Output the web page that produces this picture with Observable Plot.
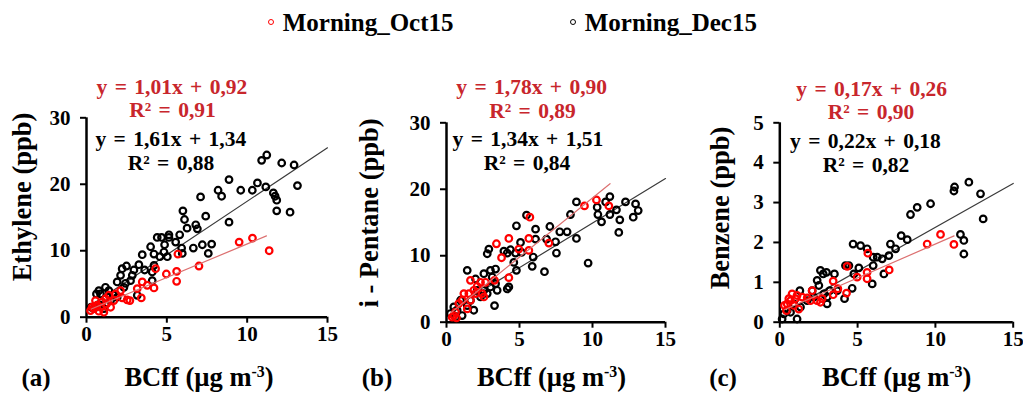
<!DOCTYPE html>
<html>
<head>
<meta charset="utf-8">
<script src="https://cdn.jsdelivr.net/npm/d3@7"></script>
<script src="https://cdn.jsdelivr.net/npm/@observablehq/plot@0.6"></script>
<style>
  html, body { margin: 0; padding: 0; background: #fff; }
  #chart { position: relative; width: 1023px; height: 399px; overflow: hidden;
           font-family: "Liberation Serif", "Times New Roman", serif; font-weight: bold; color: #000; }
  #chart svg { position: absolute; top: 0; }
  .t { position: absolute; white-space: nowrap; line-height: 0.8; }
  .c { transform: translate(-50%, -50%); }
  .rot { transform: translate(-50%, -50%) rotate(-90deg); }
  .eq { word-spacing: 2px; }
  .red { color: #c8262c; }
  sup { font-size: 0.6em; vertical-align: 0; position: relative; top: -0.55em; }
</style>
</head>
<body>
<div id="chart"></div>
<script>
// ---------- data (x = BCff µg m-3, y = ppb) ----------
const seriesNames = ["Morning_Oct15", "Morning_Dec15"];
const xTicks = [0, 5, 10, 15];

// Panel (a) Ethylene
const ethyleneDec = [[11.22,24.4],[10.9,23.6],[12.15,23.2],[12.92,22.9],[13.13,19.8],[11.16,19.6],[8.87,20.7],[10.64,20.2],[10.32,19.1],[9.6,19.1],[8.19,19.1],[8.41,18.2],[7.1,18.1],[11.63,18.7],[11.74,18.2],[11.84,17.6],[11.84,16.0],[12.67,15.8],[8.87,14.3],[7.42,15.2],[6.0,16.0],[6.1,14.7],[6.26,13.4],[6.8,13.9],[6.9,13.3],[5.8,12.4],[5.13,12.4],[5.13,12.0],[4.4,12.0],[4.67,12.0],[5.55,11.3],[4.86,10.9],[3.99,10.6],[5.92,10.4],[6.65,10.4],[7.21,10.9],[7.79,11.0],[7.58,9.6],[5.96,9.6],[4.2,9.5],[4.57,9.1],[4.82,9.8],[3.47,9.4],[5.03,9.1],[4.09,6.8],[4.2,7.8],[3.26,7.9],[2.95,7.1],[2.49,7.7],[2.22,7.3],[3.62,7.1],[2.85,6.3],[2.12,6.3],[1.91,5.3],[2.43,5.1],[2.74,5.5],[4.09,5.5],[3.16,3.3],[1.18,4.5],[0.77,4.0],[0.62,3.5],[0.87,3.5],[1.39,4.0],[1.66,3.4],[0.29,1.5],[0.46,1.3],[0.87,1.8],[1.08,1.3],[1.5,2.5],[1.91,3.0],[2.33,4.5]];
const ethyleneOct = [[11.37,10.0],[10.33,11.9],[9.5,11.3],[7.0,7.7],[5.61,6.9],[5.61,5.4],[5.69,9.5],[4.97,6.5],[4.3,7.3],[4.2,4.4],[3.78,4.8],[3.41,2.9],[3.47,5.3],[3.16,4.3],[2.7,2.5],[2.12,4.0],[1.7,2.5],[1.5,1.5],[1.25,2.0],[0.98,2.3],[0.66,1.8],[0.46,1.3],[0.56,2.5],[0.87,1.5],[1.18,2.8],[1.39,3.3],[1.81,3.5],[2.22,2.9],[2.53,2.6],[0.25,1.0],[0.35,1.5],[0.77,0.9],[1.08,0.75]];

// Panel (b) i-Pentane
const pentaneDec = [[11.19,18.9],[10.9,18.1],[12.26,18.1],[12.95,17.8],[13.13,16.8],[11.64,16.9],[11.19,16.2],[12.79,15.8],[10.32,17.3],[10.37,16.2],[10.62,15.1],[11.87,15.4],[11.8,13.5],[8.9,18.1],[8.9,12.6],[8.49,16.2],[8.26,13.6],[7.76,13.6],[7.53,10.4],[7.47,12.1],[7.08,14.4],[6.85,12.5],[6.1,12.5],[6.1,14.0],[5.94,9.8],[5.87,8.4],[5.48,16.1],[4.79,14.5],[5.07,12.0],[5.14,10.5],[4.73,10.4],[4.38,10.9],[3.93,10.7],[4.16,10.4],[4.61,9.0],[4.79,7.8],[6.71,7.6],[9.7,8.9],[2.79,10.3],[2.9,11.0],[1.42,7.8],[1.99,6.5],[2.56,7.3],[3.01,7.8],[3.36,8.0],[3.13,6.8],[3.47,4.8],[3.01,5.3],[3.36,5.8],[4.16,5.0],[4.27,5.3],[3.29,2.5],[1.87,1.8],[1.64,3.3],[2.33,3.8],[2.79,4.3],[2.1,4.8],[0.73,1.8],[0.62,0.75],[1.07,1.0],[0.27,1.3],[0.5,2.3],[0.96,3.3],[1.42,2.5],[2.56,4.8]];
const pentaneOct = [[11.12,17.5],[10.27,18.4],[9.45,17.5],[7.01,11.9],[5.71,15.8],[5.64,12.6],[5.64,10.8],[4.95,11.0],[4.27,12.6],[4.27,6.7],[3.42,11.8],[3.77,9.7],[3.29,6.3],[1.64,6.3],[2.1,5.4],[2.33,6.0],[2.67,6.0],[2.44,4.3],[2.56,3.8],[1.87,4.8],[1.53,4.3],[1.19,4.3],[1.07,3.3],[0.84,2.8],[1.42,2.0],[0.62,1.5],[0.5,1.0],[0.39,0.75],[0.68,0.65],[1.64,3.3],[1.99,4.3]];

// Panel (c) Benzene
const benzeneDec = [[12.15,3.51],[11.23,3.39],[11.19,3.29],[12.9,3.22],[13.07,2.59],[9.69,2.97],[8.83,2.88],[8.4,2.70],[11.61,2.20],[11.83,2.05],[11.83,1.71],[7.8,2.17],[8.19,2.07],[4.71,1.96],[5.19,1.92],[5.61,1.84],[7.11,1.96],[7.44,1.84],[7.01,1.67],[6.58,1.59],[6.0,1.63],[6.26,1.63],[6.0,1.42],[6.69,1.21],[5.94,0.96],[5.08,1.36],[4.76,1.21],[4.65,0.85],[4.22,1.42],[4.44,1.42],[4.16,0.59],[3.51,1.21],[2.61,1.30],[2.79,1.21],[3.0,1.25],[2.4,1.05],[2.51,0.92],[3.04,0.63],[3.04,0.46],[3.21,0.79],[1.29,0.79],[0.9,0.46],[0.26,0.21],[0.15,0.08],[1.11,0.08],[0.47,0.29],[1.76,0.54],[2.19,0.63],[1.33,0.38],[2.08,0.79],[2.83,0.71],[3.69,0.79],[0.69,0.25]];
const benzeneOct = [[11.19,1.95],[10.33,2.20],[9.47,1.96],[7.03,1.31],[5.66,1.73],[5.61,1.25],[5.61,1.09],[4.97,1.13],[4.33,1.40],[4.29,0.73],[3.73,0.84],[3.43,1.03],[3.43,0.69],[2.72,0.59],[2.4,0.54],[2.08,0.79],[1.76,0.61],[1.44,0.63],[1.01,0.59],[0.69,0.54],[0.47,0.46],[0.58,0.59],[0.3,0.42],[0.43,0.29],[0.9,0.42],[1.22,0.33],[1.97,0.54],[2.61,0.5],[0.79,0.71],[1.11,0.67]];

// Fit coefficients [slope, intercept] and fitted x-range [start, end]
const fitOct = [[1.01, 0.92], [1.78, 0.90], [0.17, 0.26]];
const fitDec = [[1.61, 1.34], [1.34, 1.51], [0.22, 0.18]];
const r2Oct = ["0,91", "0,89", "0,90"];
const r2Dec = ["0,88", "0,84", "0,82"];
const fitRangeOct = [0.3, 11.2];
const fitRangeDec = [0.3, 15];

const yLabels = ["Ethylene (ppb)", "i - Pentane (ppb)", "Benzene (ppb)"];
const panelTags = ["(a)", "(b)", "(c)"];
const yDomains = [[0, 30], [0, 30], [0, 5]];
const yTickSets = [[0, 10, 20, 30], [0, 10, 20, 30], [0, 1, 2, 3, 4, 5]];

// ---------- layout ----------
const layout = [
  {left: 0,   width: 340, ml: 86,   mr: 13,   mt: 117.3, mb: 82.3},
  {left: 340, width: 340, ml: 106,  mr: 15,   mt: 122.3, mb: 77.3},
  {left: 680, width: 343, ml: 99.3, mr: 10.3, mt: 122.3, mb: 77.3}
];
const textPos = [
  {eqR: [172, 88], r2R: [172.5, 111], eqB: [170.8, 140], r2B: [171, 164], yl: [23, 197], xl: [199, 378], tag: [36, 378]},
  {eqR: [531.7, 88.3], r2R: [532.5, 111.7], eqB: [528, 139.5], r2B: [527, 163.5], yl: [370, 213], xl: [551.5, 378], tag: [377, 378]},
  {eqR: [871.7, 90], r2R: [871, 113.3], eqB: [865.5, 142], r2B: [866, 166], yl: [721, 208], xl: [896.7, 378], tag: [723, 378]}
];

const pData = [[ethyleneOct, ethyleneDec], [pentaneOct, pentaneDec], [benzeneOct, benzeneDec]];
const chart = document.getElementById("chart");

function fmt(v) { return v.toFixed(2).replace(".", ","); }
function fitLine(f, range) { return range.map(x => ({x, y: f[0] * x + f[1]})); }

pData.forEach(([oct, dec], i) => {
  const L = layout[i];
  const svg = Plot.plot({
    width: L.width, height: 399,
    marginLeft: L.ml, marginRight: L.mr, marginTop: L.mt, marginBottom: L.mb,
    x: {domain: [0, 15]},
    y: {domain: yDomains[i]},
    style: {fontFamily: "Liberation Serif, serif", fontWeight: "bold", fontSize: "21px",
            overflow: "visible", background: "transparent", color: "black"},
    marks: [
      Plot.axisX({ticks: xTicks, tickSize: 6, tickPadding: 3, strokeWidth: 2, label: null, tickFormat: d => d}),
      Plot.axisY({ticks: yTickSets[i], tickSize: 6, tickPadding: 10, strokeWidth: 2, label: null, tickFormat: d => d}),
      Plot.ruleY([yDomains[i][0]], {stroke: "black", strokeWidth: 2.5}),
      Plot.ruleX([0], {stroke: "black", strokeWidth: 2.5}),
      Plot.line(fitLine(fitDec[i], fitRangeDec), {x: "x", y: "y", stroke: "#3a3a3a", strokeWidth: 1.2}),
      Plot.dot(dec, {x: d => d[0], y: d => d[1], r: 3.3, stroke: "black", strokeWidth: 2.2, fill: "none"}),
      Plot.dot(oct, {x: d => d[0], y: d => d[1], r: 3.3, stroke: "#ff0000", strokeWidth: 2.2, fill: "none"}),
      Plot.line(fitLine(fitOct[i], fitRangeOct), {x: "x", y: "y", stroke: "#dc7070", strokeWidth: 1.2})
    ]
  });
  svg.style.left = L.left + "px";
  chart.appendChild(svg);

  const T = textPos[i];
  const add = (html, pos, cls, size) => {
    const d = document.createElement("div");
    d.className = "t " + cls;
    d.style.left = pos[0] + "px"; d.style.top = pos[1] + "px"; d.style.fontSize = size + "px";
    d.innerHTML = html;
    chart.appendChild(d);
  };
  add(`y = ${fmt(fitOct[i][0])}x + ${fmt(fitOct[i][1])}`, T.eqR, "c eq red", 21.5);
  add(`R² = ${r2Oct[i]}`, T.r2R, "c eq red", 21.5);
  add(`y = ${fmt(fitDec[i][0])}x + ${fmt(fitDec[i][1])}`, T.eqB, "c eq", 21.5);
  add(`R² = ${r2Dec[i]}`, T.r2B, "c eq", 21.5);
  add(yLabels[i], T.yl, "rot", 26.5);
  add(`BCff (µg m<sup>-3</sup>)`, T.xl, "c", 26.5);
  add(panelTags[i], T.tag, "c", 25);
});

// ---------- legend ----------
const legendColors = ["#ff0000", "black"];
const legendX = [270.7, 572.7];
seriesNames.forEach((name, k) => {
  const m = document.createElement("div");
  m.className = "t";
  m.style.cssText = `left:${legendX[k] - 3}px; top:${22 - 3}px; width:4px; height:4px; border:1.3px solid ${legendColors[k]}; border-radius:50%;`;
  chart.appendChild(m);
  const d = document.createElement("div");
  d.className = "t";
  d.style.cssText = `left:${legendX[k] + 12}px; top:${23}px; font-size:25px; transform:translateY(-50%);`;
  d.textContent = name;
  chart.appendChild(d);
});
</script>
</body>
</html>
